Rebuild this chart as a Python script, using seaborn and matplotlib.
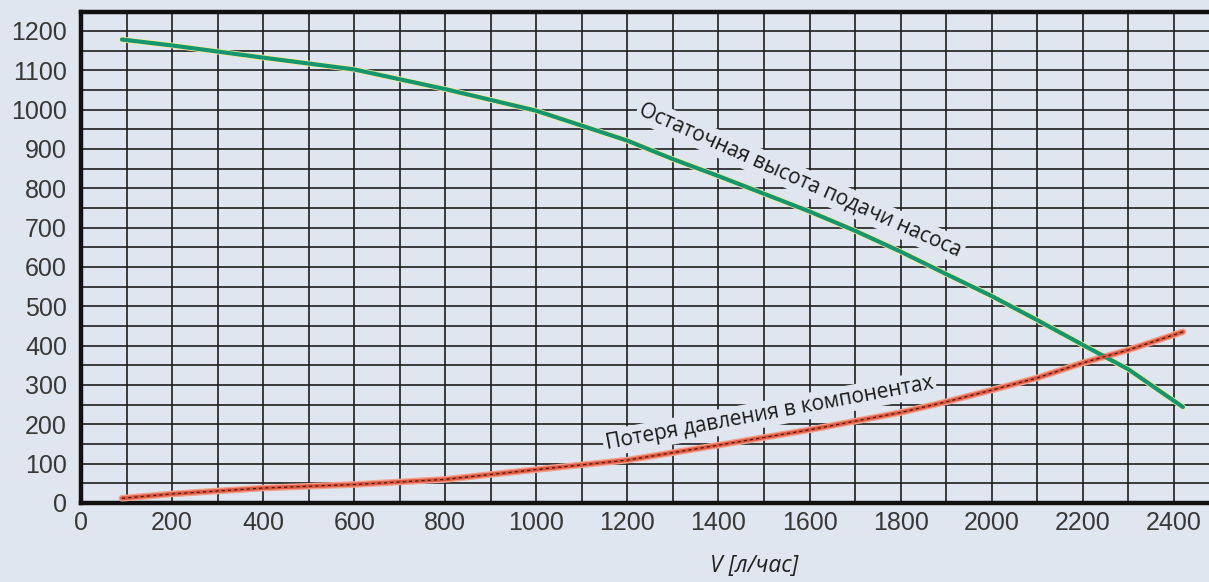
import matplotlib
matplotlib.use("Agg")
import matplotlib.pyplot as plt
import seaborn as sns
import pandas as pd
import numpy as np

# остаточная высота подачи насоса
pump_x = [90, 200, 400, 600, 800, 1000, 1100, 1200, 1300, 1400, 1500, 1600, 1700, 1800, 1900, 2000, 2100, 2200, 2300, 2420]
pump_y = [1178, 1163, 1132, 1102, 1052, 997, 959, 921, 874, 831, 786, 741, 692, 639, 582, 526, 465, 402, 340, 244]

# потеря давления в компонентах
loss_x = [90, 200, 400, 600, 800, 1000, 1200, 1400, 1600, 1800, 1900, 2000, 2100, 2200, 2300, 2420]
loss_y = [12, 23, 38, 47, 60, 85, 109, 147, 186, 230, 257, 287, 318, 356, 389, 435]

x_ticks = list(range(0, 2401, 200))
y_ticks = list(range(0, 1201, 100))

pump_label = "Остаточная высота подачи насоса"
loss_label = "Потеря давления в компонентах"
x_label = "V [л/час]"

bg = "#dfe6ef"

sns.set_style("white")
plt.rcParams['font.family'] = ['Liberation Sans', 'DejaVu Sans']

fig = plt.figure(figsize=(12.09, 5.82), dpi=100, facecolor=bg)
ax = fig.add_axes([81/1209, 79/582, 1 - 81/1209 + 0.001, (503 - 12)/582])
ax.set_facecolor(bg)

df_pump = pd.DataFrame({"V": pump_x, "H": pump_y})
df_loss = pd.DataFrame({"V": loss_x, "H": loss_y})

sns.lineplot(data=df_pump, x="V", y="H", ax=ax, color="#f2e9a0", lw=4.2, zorder=4)
sns.lineplot(data=df_pump, x="V", y="H", ax=ax, color="#15966c", lw=3.0, zorder=5)
sns.lineplot(data=df_loss, x="V", y="H", ax=ax, color="#f0a28f", lw=4.8, zorder=4)
sns.lineplot(data=df_loss, x="V", y="H", ax=ax, color="#e0583f", lw=2.8, zorder=5)
sns.lineplot(data=df_loss, x="V", y="H", ax=ax, color="#4a1a12", lw=0.9, zorder=6,
             dashes=False, linestyle=(0, (2.5, 2.5)))

ax.set_xlim(0, 2480)
ax.set_ylim(0, 1248)
ax.set_xticks(x_ticks)
ax.set_yticks(y_ticks)
ax.set_xticks(np.arange(100, 2480, 200), minor=True)
ax.set_yticks(np.arange(50, 1248, 100), minor=True)
ax.grid(True, which="both", color="#1e1e1e", lw=1.2, zorder=1)
ax.set_axisbelow(True)

for s in ["left", "bottom", "top"]:
    ax.spines[s].set_linewidth(3.2)
    ax.spines[s].set_color("#111111")
ax.spines["right"].set_visible(False)

ax.tick_params(axis="both", which="major", direction="out", length=4, width=1,
               color="#333333", labelsize=18, labelcolor="#383838", pad=2)
ax.tick_params(axis="y", which="major", pad=6)
ax.tick_params(axis="both", which="minor", length=0)
ax.set_xlabel("")
ax.set_ylabel("")

fig.text(754/1209, 1 - 566/582, x_label, ha="center", va="center", fontsize=16.5,
         style="italic", family=["Open Sans", "DejaVu Sans"], color="#222222")

box = dict(facecolor=bg, edgecolor="none", pad=2)
ax.text(1580, 820, pump_label, rotation=-24, rotation_mode="anchor", ha="center",
        va="center", fontsize=15, family=["Open Sans", "DejaVu Sans"],
        color="#1a1a1a", bbox=box, zorder=3)
ax.text(1512, 228, loss_label, rotation=10.5, rotation_mode="anchor", ha="center",
        va="center", fontsize=15, family=["Open Sans", "DejaVu Sans"],
        color="#1a1a1a", bbox=box, zorder=3)

fig.savefig("out.png", dpi=100, facecolor=bg)
